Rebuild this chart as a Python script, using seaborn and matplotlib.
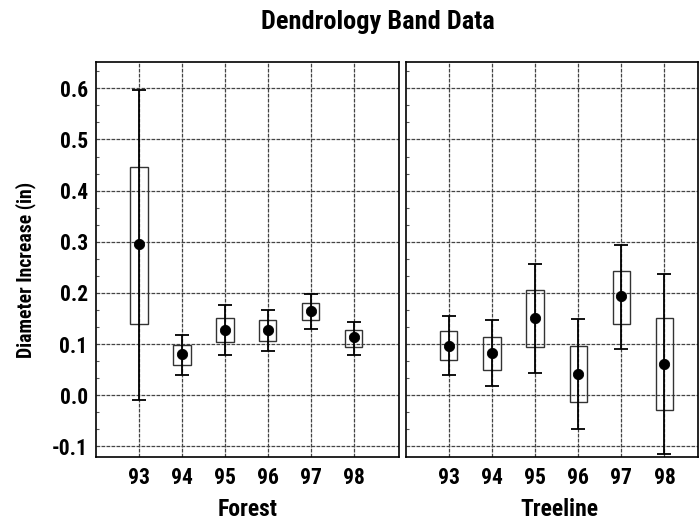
import matplotlib.pyplot as plt
import seaborn as sns
import pandas as pd
from matplotlib.ticker import MultipleLocator

# Band data per site: whisker low/high, box low/high and mean, per year
years = [93, 94, 95, 96, 97, 98]

forest_lo = [-0.009, 0.040, 0.079, 0.086, 0.129, 0.079]
forest_q1 = [0.140, 0.059, 0.103, 0.106, 0.146, 0.095]
forest_mean = [0.295, 0.080, 0.128, 0.128, 0.164, 0.113]
forest_q3 = [0.447, 0.099, 0.151, 0.147, 0.180, 0.128]
forest_hi = [0.597, 0.118, 0.176, 0.167, 0.197, 0.144]

tree_lo = [0.040, 0.018, 0.043, -0.066, 0.090, -0.116]
tree_q1 = [0.068, 0.049, 0.095, -0.013, 0.139, -0.030]
tree_mean = [0.097, 0.082, 0.150, 0.041, 0.193, 0.060]
tree_q3 = [0.125, 0.114, 0.205, 0.096, 0.243, 0.150]
tree_hi = [0.154, 0.146, 0.256, 0.148, 0.294, 0.237]

y_ticks = [-0.1, 0.0, 0.1, 0.2, 0.3, 0.4, 0.5, 0.6]
y_labels = ['-0.1', '0.0', '0.1', '0.2', '0.3', '0.4', '0.5', '0.6']

forest = pd.DataFrame({'year': years, 'lo': forest_lo, 'q1': forest_q1,
                       'mean': forest_mean, 'q3': forest_q3, 'hi': forest_hi})
treeline = pd.DataFrame({'year': years, 'lo': tree_lo, 'q1': tree_q1,
                         'mean': tree_mean, 'q3': tree_q3, 'hi': tree_hi})

sns.set_style('white')
plt.rcParams['font.family'] = ['Roboto Condensed', 'Liberation Sans Narrow',
                               'Roboto', 'DejaVu Sans']
plt.rcParams['font.weight'] = 'bold'
plt.rcParams['axes.labelweight'] = 'bold'
plt.rcParams['text.color'] = 'black'
plt.rcParams['xtick.color'] = 'black'
plt.rcParams['ytick.color'] = 'black'
plt.rcParams['axes.labelcolor'] = 'black'

fig = plt.figure(figsize=(6.99, 5.25), dpi=100)
ax1 = fig.add_axes([0.1373, 0.1295, 0.4335, 0.7524])
ax2 = fig.add_axes([0.5804, 0.1295, 0.4182, 0.7524], sharey=ax1)


def draw_panel(ax, df, label, xmax):
    ax.bar(df['year'], df['q3'] - df['q1'], bottom=df['q1'], width=0.4,
           fill=False, edgecolor='#333333', linewidth=1.0, zorder=2)
    ax.errorbar(df['year'], df['mean'],
                yerr=[df['mean'] - df['lo'], df['hi'] - df['mean']],
                fmt='none', ecolor='black', elinewidth=1.3, capsize=5,
                capthick=1.3, zorder=3)
    sns.scatterplot(data=df, x='year', y='mean', color='black', s=55,
                    edgecolor='black', ax=ax, zorder=4, legend=False)
    ax.set_xlim(92, xmax)
    ax.set_ylim(-0.121, 0.6515)
    ax.set_xticks(years)
    ax.set_xticklabels([str(y) for y in years])
    ax.set_yticks(y_ticks)
    ax.yaxis.set_minor_locator(MultipleLocator(0.1 / 3))
    ax.grid(True, which='major', color='#444444', linestyle=(0, (3, 1)),
            linewidth=0.9)
    ax.set_axisbelow(True)
    ax.tick_params(axis='both', which='major', length=0, labelsize=15.5)
    ax.tick_params(axis='x', pad=7)
    ax.tick_params(axis='y', which='minor', direction='in', length=2,
                   left=True, width=0.8, color='#555555')
    for s in ax.spines.values():
        s.set_color('black')
        s.set_linewidth(1.2)
    ax.set_xlabel(label, fontsize=17, fontweight='bold')
    ax.set_ylabel('')


draw_panel(ax1, forest, 'Forest', 99.05)
draw_panel(ax2, treeline, 'Treeline', 98.78)

ax1.set_yticklabels(y_labels)
ax1.tick_params(axis='y', pad=6)
ax2.tick_params(axis='y', which='major', labelleft=False)
ax2.xaxis.set_label_coords(0.524, -0.105)
ax1.xaxis.set_label_coords(0.5, -0.105)

fig.text(0.037, 0.486, 'Diameter Increase (in)', rotation=90, fontsize=14.2,
         fontweight='bold', ha='center', va='center')
fig.text(0.54, 0.958, 'Dendrology Band Data', fontsize=19,
         fontweight='bold', ha='center', va='center')

fig.savefig('out.png', dpi=100)
